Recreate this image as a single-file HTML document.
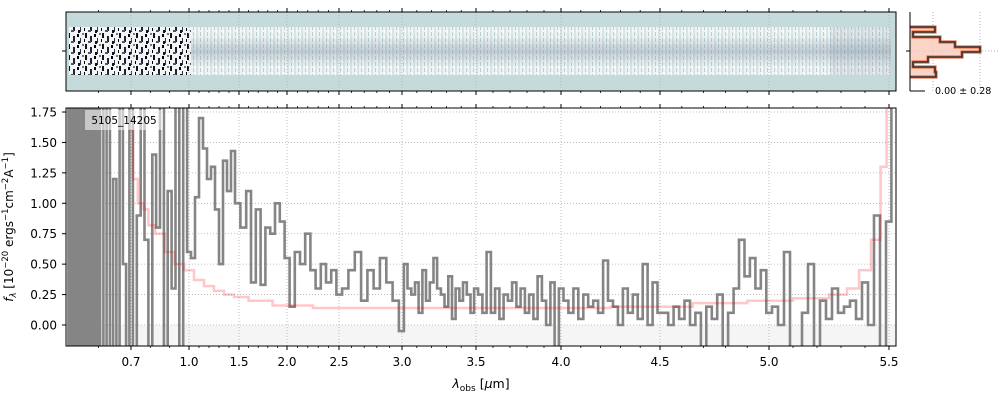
<!DOCTYPE html>
<html><head><meta charset="utf-8"><style>
html,body{margin:0;background:#fff;width:1000px;height:400px;overflow:hidden;}
svg{display:block;font-family:"DejaVu Sans","Liberation Sans",sans-serif;}
</style></head><body>
<svg id="fig" width="1000" height="400" viewBox="0 0 1000 400" xmlns="http://www.w3.org/2000/svg">
<defs>
<clipPath id="mainClip"><rect x="66" y="108" width="830" height="238"/></clipPath>
<pattern id="noiseL" width="17" height="11" patternUnits="userSpaceOnUse">
<rect width="17" height="11" fill="#f2f5f5"/><rect x="0" y="0" width="2" height="5" fill="#111"/><rect x="5" y="3" width="2" height="6" fill="#223"/><rect x="3" y="8" width="3" height="2" fill="#556"/><rect x="9" y="1" width="2" height="3" fill="#000"/><rect x="12" y="5" width="1" height="5" fill="#334"/><rect x="14" y="0" width="2" height="2" fill="#778"/><rect x="10" y="8" width="2" height="3" fill="#112"/><rect x="16" y="6" width="1" height="3" fill="#000"/>
</pattern>
<pattern id="noiseR" width="7" height="6" patternUnits="userSpaceOnUse">
<rect width="7" height="6" fill="#eef4f4"/><rect x="0" y="0" width="2" height="6" fill="#d6e4e4"/><rect x="4" y="2" width="1" height="4" fill="#bccfd2"/><rect x="6" y="0" width="1" height="3" fill="#fff"/>
</pattern>
<linearGradient id="band" x1="0" y1="0" x2="0" y2="1">
<stop offset="0" stop-color="#7a8fa0" stop-opacity="0"/><stop offset="0.5" stop-color="#7a8fa0" stop-opacity="0.4"/><stop offset="1" stop-color="#7a8fa0" stop-opacity="0"/>
</linearGradient>
</defs>
<g id="top2d"></g>
<g id="hist"></g>
<g id="main"></g>
</svg>
<script>
// ---- data ----
const waveA=[0.505,0.51,0.515,0.52,0.525,0.53,0.535,0.54,0.545,0.55,0.555,0.56,0.565,0.57,0.575,0.58,0.585,0.59,0.595,0.60,0.61,0.62,0.63,0.64,0.65,0.66,0.67,0.68,0.69,0.70];
const fluxA=[3,-3,4,-2,3,-4,2,-3,4,-3,3,-2,4,-3,3,-2,3,-3,4,-3,3,-2,4,-3,1.2,-2,3,0.5,-3,2];
const waveB=[0.72,0.74,0.76,0.78,0.80,0.82,0.84,0.86,0.88,0.90,0.92,0.94,0.96,0.98,1.00];
const fluxB=[-1.0,0.9,2.5,0.7,-0.6,1.4,0.8,2.0,-0.2,1.1,0.3,2.2,-0.8,3.0,0.6];
const waveC=[1.04,1.08,1.12,1.16,1.20,1.24,1.28,1.32,1.36,1.40,1.44,1.48];
const fluxC=[0.55,1.05,1.7,1.45,1.2,1.3,0.95,0.5,1.35,1.1,1.43,1.0];
const waveD=[1.55,1.60,1.65,1.70,1.75,1.80,1.85,1.90,1.95,2.00];
const fluxD=[0.8,1.1,0.35,0.95,0.33,0.8,0.75,1.0,0.85,0.55];
const waveE=[2.05,2.10,2.15,2.20,2.25,2.30,2.35,2.40,2.45,2.50];
const fluxE=[0.15,0.6,0.5,0.75,0.45,0.3,0.5,0.35,0.45,0.25];
const waveF=[2.55,2.60,2.65,2.70,2.75,2.80,2.85,2.90,2.95,3.00];
const fluxF=[0.3,0.45,0.6,0.2,0.45,0.3,0.55,0.35,0.2,-0.05];
const waveG=[3.025,3.05,3.075,3.10,3.125,3.15,3.175,3.20,3.225,3.25,3.275,3.30,3.325,3.35,3.375,3.40,3.425,3.45,3.475,3.50];
const fluxG=[0.5,0.3,0.25,0.35,0.1,0.45,0.2,0.35,0.55,0.3,0.25,0.15,0.4,0.05,0.3,0.2,0.35,0.25,0.1,0.3];
const waveH=[3.525,3.55,3.575,3.60,3.625,3.65,3.675,3.70,3.725,3.75,3.775,3.80,3.825,3.85,3.875,3.90,3.925,3.95,3.975,4.00];
const fluxH=[0.25,0.1,0.6,0.1,0.3,0.05,0.25,0.2,0.35,0.15,0.3,0.1,0.25,0.05,0.4,0.2,0.0,0.35,-0.2,0.3];
const waveI=[4.025,4.05,4.075,4.10,4.125,4.15,4.175,4.20,4.225,4.25,4.275,4.30,4.325,4.35,4.375,4.40,4.425,4.45,4.475,4.50];
const fluxI=[0.2,0.1,0.3,0.05,0.25,0.15,0.2,0.1,0.53,0.2,0.15,0.0,0.3,0.1,0.25,0.05,0.5,0.0,0.35,0.1];
const waveJ=[4.525,4.55,4.575,4.60,4.625,4.65,4.675,4.70,4.725,4.75,4.775,4.80,4.825,4.85,4.875,4.90,4.925,4.95,4.975,5.00];
const fluxJ=[0.1,0.0,0.15,0.05,0.2,0.0,0.1,-0.3,0.15,0.05,0.25,-0.3,0.1,0.3,0.7,0.4,0.55,0.3,0.45,0.1];
const waveK=[5.025,5.05,5.075,5.10,5.125,5.15,5.175,5.20,5.225,5.25,5.275,5.30,5.325,5.35,5.375,5.40,5.425,5.45,5.475,5.50,5.52];
const fluxK=[0.15,0.0,0.6,-0.3,-0.4,0.1,0.5,-0.3,0.2,0.05,0.3,0.1,0.15,0.2,0.05,0.35,0.0,0.9,-0.4,0.85,1.9];
const modelWave=[0.70,0.72,0.75,0.78,0.80,0.85,0.90,0.95,1.0,1.1,1.2,1.3,1.4,1.5,1.7,2.0,2.5,3.0,3.5,4.0,4.5,4.8,5.0,5.2,5.3,5.35,5.4,5.45,5.48,5.5,5.52];
const modelFlux=[1.6,1.2,1.0,0.95,0.82,0.75,0.6,0.5,0.45,0.37,0.32,0.28,0.25,0.23,0.2,0.16,0.14,0.14,0.14,0.14,0.15,0.18,0.2,0.22,0.25,0.3,0.45,0.7,1.3,1.8,2.5];
const xTicks=[0.7,1.0,1.5,2.0,2.5,3.0,3.5,4.0,4.5,5.0,5.5];
const xTickLabels=["0.7","1.0","1.5","2.0","2.5","3.0","3.5","4.0","4.5","5.0","5.5"];
const yTicks=[0,0.25,0.5,0.75,1.0,1.25,1.5,1.75];
const yTickLabels=["0.00","0.25","0.50","0.75","1.00","1.25","1.50","1.75"];
const histCounts=[25,3,30,45,70,52,18,3,25,26];

const wave=[].concat(waveA,waveB,waveC,waveD,waveE,waveF,waveG,waveH,waveI,waveJ,waveK);
const flux=[].concat(fluxA,fluxB,fluxC,fluxD,fluxE,fluxF,fluxG,fluxH,fluxI,fluxJ,fluxK);

// ---- axes ----
const AW=[0.5,0.7,1.0,1.5,2.0,2.5,3.0,3.5,4.0,4.5,5.0,5.5,5.6];
const AP=[66,131,189,239,287,339,402,476,561,660,769,889,913];
function xs(w){
  if(w<=AW[0]) return AP[0]+(w-AW[0])*(AP[1]-AP[0])/(AW[1]-AW[0]);
  for(let i=0;i<AW.length-1;i++){ if(w<=AW[i+1]) return AP[i]+(w-AW[i])*(AP[i+1]-AP[i])/(AW[i+1]-AW[i]); }
  const n=AW.length-1; return AP[n]+(w-AW[n])*(AP[n]-AP[n-1])/(AW[n]-AW[n-1]);
}
function ys(v){ return 325 - v*121.7; }

const NS="http://www.w3.org/2000/svg";
function mk(tag,attrs,parent){const e=document.createElementNS(NS,tag);for(const k in attrs)e.setAttribute(k,attrs[k]);parent.appendChild(e);return e;}
function stepPath(W,F,yf){
  let d="";
  for(let i=0;i<W.length;i++){
    const x=xs(W[i]);
    const xa=i>0?(xs(W[i-1])+x)/2:x-(xs(W[i+1])-x)/2;
    const xb=i<W.length-1?(x+xs(W[i+1]))/2:x+(x-xs(W[i-1]))/2;
    const y=Math.max(-2000,Math.min(2000,yf(F[i])));
    d+=(i===0?"M":"L")+xa.toFixed(1)+","+y.toFixed(1)+"L"+xb.toFixed(1)+","+y.toFixed(1);
  }
  return d;
}
const minor=[];for(let k=6;k<=55;k++){const w=k/10;if(!xTicks.some(t=>Math.abs(t-w)<1e-6))minor.push(w);}

// ---- top 2D panel ----
const topG=document.getElementById('top2d');
let r=mk('rect',{x:66,y:12,width:830,height:79,fill:'#c5dbdb'},topG);

r=mk('rect',{x:69,y:27,width:122,height:48,fill:'url(#noiseL)'},topG);

r=mk('rect',{x:191,y:27,width:700,height:48,fill:'url(#noiseR)'},topG);

r=mk('rect',{x:191,y:35,width:700,height:32,fill:'url(#band)'},topG);

r=mk('rect',{x:830,y:27,width:61,height:48,fill:'#7d8ea0',opacity:0.15},topG);

xTicks.forEach(t=>{const x=xs(t);
  let g=mk('line',{x1:x,x2:x,y1:12,y2:91,stroke:'#b0b0b0','stroke-width':0.8,'stroke-dasharray':'1,2'},topG);
  
  mk('line',{x1:x,x2:x,y1:8,y2:12,stroke:'#000','stroke-width':1},topG);
  mk('line',{x1:x,x2:x,y1:91,y2:95,stroke:'#000','stroke-width':1},topG);
});
minor.forEach(w=>{const x=xs(w);mk('line',{x1:x,x2:x,y1:10,y2:12,stroke:'#000','stroke-width':0.8},topG);mk('line',{x1:x,x2:x,y1:91,y2:93,stroke:'#000','stroke-width':0.8},topG);});
mk('line',{x1:62,x2:66,y1:51,y2:51,stroke:'#000'},topG);
r=mk('rect',{x:66,y:12,width:830,height:79,fill:'none',stroke:'#000','stroke-width':1},topG);


// ---- histogram ----
const hg=document.getElementById('hist');
mk('line',{x1:933,x2:933,y1:12,y2:91,stroke:'#b0b0b0','stroke-dasharray':'1,2'},hg);
mk('line',{x1:980,x2:980,y1:12,y2:91,stroke:'#b0b0b0','stroke-dasharray':'1,2'},hg);
mk('line',{x1:910,x2:1000,y1:51,y2:51,stroke:'#b0b0b0','stroke-dasharray':'1,2'},hg);
let hd="M910,27";
histCounts.forEach((c,i)=>{const y0=27+i*5;hd+="L"+(910+c)+","+y0+"L"+(910+c)+","+(y0+5);});
hd+="L910,77Z";
let hp=mk('path',{d:hd,fill:'#f9c9b8',opacity:0.8},hg);

let hl=mk('path',{d:hd.replace('Z',''),fill:'none',stroke:'#e8704a','stroke-width':3.2},hg);

mk('path',{d:hd.replace('Z',''),fill:'none',stroke:'#333','stroke-width':1.6},hg);
mk('line',{x1:910,x2:910,y1:12,y2:91,stroke:'#000'},hg);
mk('line',{x1:910,x2:925,y1:91,y2:91,stroke:'#000'},hg);
mk('line',{x1:906,x2:910,y1:51,y2:51,stroke:'#000'},hg);
let ht=mk('text',{x:935,y:94,'font-size':9.5,fill:'#000'},hg);ht.textContent="0.00 ± 0.28";


// ---- main ----
const mg=document.getElementById('main');
r=mk('rect',{x:66,y:ys(0),width:830,height:346-ys(0),fill:'#f5f5f5'},mg);

yTicks.forEach((t,i)=>{const y=ys(t);
  let g=mk('line',{x1:66,x2:896,y1:y,y2:y,stroke:'#b0b0b0','stroke-width':0.8,'stroke-dasharray':'1,2'},mg);
  
  mk('line',{x1:62,x2:66,y1:y,y2:y,stroke:'#000'},mg);
  let tx=mk('text',{x:57,y:y+4.5,'font-size':12,'text-anchor':'end',fill:'#000'},mg);tx.textContent=yTickLabels[i];
  
});
xTicks.forEach((t,i)=>{const x=xs(t);
  let g=mk('line',{x1:x,x2:x,y1:108,y2:346,stroke:'#b0b0b0','stroke-width':0.8,'stroke-dasharray':'1,2'},mg);
  
  mk('line',{x1:x,x2:x,y1:346,y2:350,stroke:'#000'},mg);
  mk('line',{x1:x,x2:x,y1:104,y2:108,stroke:'#000'},mg);
  let tx=mk('text',{x:x,y:366,'font-size':12,'text-anchor':'middle',fill:'#000'},mg);tx.textContent=xTickLabels[i];
  
});
minor.forEach(w=>{const x=xs(w);mk('line',{x1:x,x2:x,y1:346,y2:348,stroke:'#000','stroke-width':0.8},mg);mk('line',{x1:x,x2:x,y1:106,y2:108,stroke:'#000','stroke-width':0.8},mg);});
const cg=mk('g',{'clip-path':'url(#mainClip)'},mg);
let dp=mk('path',{d:stepPath(wave,flux,ys),fill:'none',stroke:'#858585','stroke-width':2.6,'stroke-linejoin':'miter'},cg);

let mp=mk('path',{d:stepPath(modelWave,modelFlux,ys),fill:'none',stroke:'#ff0000','stroke-opacity':0.22,'stroke-width':2.5},cg);

r=mk('rect',{x:85,y:110,width:78,height:20,fill:'#fff',opacity:0.55},mg);

let lt=mk('text',{x:124,y:124,'font-size':10.5,'text-anchor':'middle',fill:'#000'},mg);lt.textContent="5105_14205";

r=mk('rect',{x:66,y:108,width:830,height:238,fill:'none',stroke:'#000','stroke-width':1},mg);

let xlab=mk('text',{x:481,y:388,'font-size':12.5,'text-anchor':'middle',fill:'#000'},mg);
xlab.innerHTML='<tspan font-style="italic">λ</tspan><tspan font-size="9" dy="3">obs</tspan><tspan dy="-3"> [</tspan><tspan font-style="italic">μ</tspan>m]';

let ylab=mk('text',{x:0,y:0,'font-size':12,'text-anchor':'middle',fill:'#000',transform:'translate(13,227) rotate(-90)'},mg);
ylab.innerHTML='<tspan font-style="italic">f</tspan><tspan font-size="8.5" dy="3" font-style="italic">λ</tspan><tspan dy="-3"> [10</tspan><tspan font-size="8.5" dy="-5">−20</tspan><tspan dy="5"> ergs</tspan><tspan font-size="8.5" dy="-5">−1</tspan><tspan dy="5">cm</tspan><tspan font-size="8.5" dy="-5">−2</tspan><tspan dy="5">A</tspan><tspan font-size="8.5" dy="-5">−1</tspan><tspan dy="5">]</tspan>';

</script>
</body></html>
